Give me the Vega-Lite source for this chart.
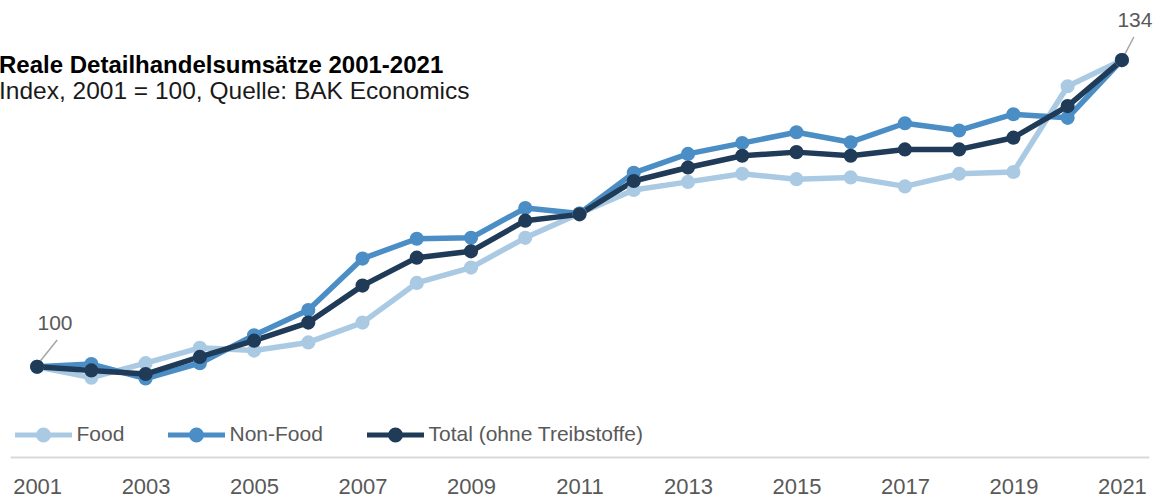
{
  "$schema": "https://vega.github.io/schema/vega-lite/v6.json",
  "width": 1139,
  "height": 451,
  "autosize": {"type": "none"},
  "padding": {"left": 10, "top": 6, "right": 7, "bottom": 39},
  "background": "white",
  "config": {
    "font": "Liberation Sans",
    "view": {"stroke": null},
    "title": {"offset": 0}
  },
  "title": {
    "text": "Reale Detailhandelsumsätze 2001-2021",
    "subtitle": "Index, 2001 = 100, Quelle: BAK Economics",
    "anchor": "start",
    "frame": "group",
    "dx": -11,
    "dy": 101,
    "fontSize": 24,
    "fontWeight": "bold",
    "color": "#000000",
    "subtitleFontSize": 24.5,
    "subtitleColor": "#1a1a1a",
    "subtitlePadding": 2
  },
  "data": {"values": [
      {"year": 2001, "value": 100.0, "series": "Food"},
      {"year": 2002, "value": 98.8, "series": "Food"},
      {"year": 2003, "value": 100.4, "series": "Food"},
      {"year": 2004, "value": 102.1, "series": "Food"},
      {"year": 2005, "value": 101.8, "series": "Food"},
      {"year": 2006, "value": 102.7, "series": "Food"},
      {"year": 2007, "value": 104.9, "series": "Food"},
      {"year": 2008, "value": 109.3, "series": "Food"},
      {"year": 2009, "value": 111.0, "series": "Food"},
      {"year": 2010, "value": 114.3, "series": "Food"},
      {"year": 2011, "value": 117.0, "series": "Food"},
      {"year": 2012, "value": 119.6, "series": "Food"},
      {"year": 2013, "value": 120.5, "series": "Food"},
      {"year": 2014, "value": 121.4, "series": "Food"},
      {"year": 2015, "value": 120.8, "series": "Food"},
      {"year": 2016, "value": 121.0, "series": "Food"},
      {"year": 2017, "value": 120.0, "series": "Food"},
      {"year": 2018, "value": 121.4, "series": "Food"},
      {"year": 2019, "value": 121.6, "series": "Food"},
      {"year": 2020, "value": 131.1, "series": "Food"},
      {"year": 2021, "value": 134.0, "series": "Food"},
      {"year": 2001, "value": 100.0, "series": "Non-Food"},
      {"year": 2002, "value": 100.3, "series": "Non-Food"},
      {"year": 2003, "value": 98.7, "series": "Non-Food"},
      {"year": 2004, "value": 100.4, "series": "Non-Food"},
      {"year": 2005, "value": 103.5, "series": "Non-Food"},
      {"year": 2006, "value": 106.3, "series": "Non-Food"},
      {"year": 2007, "value": 112.0, "series": "Non-Food"},
      {"year": 2008, "value": 114.2, "series": "Non-Food"},
      {"year": 2009, "value": 114.3, "series": "Non-Food"},
      {"year": 2010, "value": 117.6, "series": "Non-Food"},
      {"year": 2011, "value": 117.0, "series": "Non-Food"},
      {"year": 2012, "value": 121.5, "series": "Non-Food"},
      {"year": 2013, "value": 123.6, "series": "Non-Food"},
      {"year": 2014, "value": 124.8, "series": "Non-Food"},
      {"year": 2015, "value": 126.0, "series": "Non-Food"},
      {"year": 2016, "value": 124.9, "series": "Non-Food"},
      {"year": 2017, "value": 127.0, "series": "Non-Food"},
      {"year": 2018, "value": 126.2, "series": "Non-Food"},
      {"year": 2019, "value": 128.0, "series": "Non-Food"},
      {"year": 2020, "value": 127.6, "series": "Non-Food"},
      {"year": 2021, "value": 134.0, "series": "Non-Food"},
      {"year": 2001, "value": 100.0, "series": "Total (ohne Treibstoffe)"},
      {"year": 2002, "value": 99.6, "series": "Total (ohne Treibstoffe)"},
      {"year": 2003, "value": 99.2, "series": "Total (ohne Treibstoffe)"},
      {"year": 2004, "value": 101.1, "series": "Total (ohne Treibstoffe)"},
      {"year": 2005, "value": 102.9, "series": "Total (ohne Treibstoffe)"},
      {"year": 2006, "value": 104.9, "series": "Total (ohne Treibstoffe)"},
      {"year": 2007, "value": 109.0, "series": "Total (ohne Treibstoffe)"},
      {"year": 2008, "value": 112.1, "series": "Total (ohne Treibstoffe)"},
      {"year": 2009, "value": 112.8, "series": "Total (ohne Treibstoffe)"},
      {"year": 2010, "value": 116.2, "series": "Total (ohne Treibstoffe)"},
      {"year": 2011, "value": 116.9, "series": "Total (ohne Treibstoffe)"},
      {"year": 2012, "value": 120.6, "series": "Total (ohne Treibstoffe)"},
      {"year": 2013, "value": 122.1, "series": "Total (ohne Treibstoffe)"},
      {"year": 2014, "value": 123.4, "series": "Total (ohne Treibstoffe)"},
      {"year": 2015, "value": 123.8, "series": "Total (ohne Treibstoffe)"},
      {"year": 2016, "value": 123.4, "series": "Total (ohne Treibstoffe)"},
      {"year": 2017, "value": 124.1, "series": "Total (ohne Treibstoffe)"},
      {"year": 2018, "value": 124.1, "series": "Total (ohne Treibstoffe)"},
      {"year": 2019, "value": 125.4, "series": "Total (ohne Treibstoffe)"},
      {"year": 2020, "value": 128.9, "series": "Total (ohne Treibstoffe)"},
      {"year": 2021, "value": 134.0, "series": "Total (ohne Treibstoffe)"}
  ]},
  "encoding": {
    "x": {"field": "year", "type": "quantitative", "scale": {"domain": [2000.5, 2021.5], "nice": false, "zero": false},
      "axis": {"values": [2001, 2003, 2005, 2007, 2009, 2011, 2013, 2015, 2017, 2019, 2021], "format": "d", "title": null, "grid": false, "ticks": false, "labelFlush": false, "labelOverlap": false, "domainColor": "#d9d9d9", "domainWidth": 2, "labelFontSize": 22, "labelColor": "#595959", "labelPadding": 19}},
    "y": {"field": "value", "type": "quantitative", "scale": {"domain": [90, 140], "nice": false, "zero": false}, "axis": null}
  },
  "layer": [
    {
      "data": {"values": [
        {"label": "100", "year": 2001.0, "value": 100.2, "tipYear": 2001.37, "tipValue": 102.97},
        {"label": "134", "year": 2021.02, "value": 134.24, "tipYear": 2021.22, "tipValue": 136.56}
      ]},
      "mark": {"type": "rule", "color": "#a6a6a6", "strokeWidth": 1.5},
      "encoding": {
        "x2": {"field": "tipYear"},
        "y2": {"field": "tipValue"}
      }
    },
    {
      "mark": {"type": "line", "strokeWidth": 5.5, "strokeJoin": "round"},
      "encoding": {
        "color": {
          "field": "series",
          "type": "nominal",
          "scale": {"domain": ["Food", "Non-Food", "Total (ohne Treibstoffe)"], "range": ["#aacae4", "#4a8ec5", "#1f3b57"]},
          "legend": {
            "title": null,
            "orient": "none",
            "direction": "horizontal",
            "legendX": 2.5,
            "legendY": 398,
            "padding": 0,
            "symbolType": "M-1,0 H1 M-0.175,0 A0.175,0.175 0 1,1 0.175,0 A0.175,0.175 0 1,1 -0.175,0 Z M-0.06,0 A0.06,0.06 0 1,1 0.06,0 A0.06,0.06 0 1,1 -0.06,0 Z",
            "symbolSize": 3249,
            "symbolStrokeWidth": 5,
            "symbolOpacity": 1,
            "labelFontSize": 21,
            "labelColor": "#595959",
            "labelOffset": 2,
            "labelLimit": 320,
            "columnPadding": 33
          }
        }
      }
    },
    {
      "mark": {"type": "point", "filled": true, "size": 200, "opacity": 1},
      "encoding": {
        "color": {
          "field": "series",
          "type": "nominal",
          "legend": {
            "title": null,
            "orient": "none",
            "direction": "horizontal",
            "legendX": 2.5,
            "legendY": 398,
            "padding": 0,
            "symbolType": "M-1,0 H1 M-0.175,0 A0.175,0.175 0 1,1 0.175,0 A0.175,0.175 0 1,1 -0.175,0 Z M-0.06,0 A0.06,0.06 0 1,1 0.06,0 A0.06,0.06 0 1,1 -0.06,0 Z",
            "symbolSize": 3249,
            "symbolStrokeWidth": 5,
            "symbolOpacity": 1,
            "labelFontSize": 21,
            "labelColor": "#595959",
            "labelOffset": 2,
            "labelLimit": 320,
            "columnPadding": 33
          }
        }
      }
    },
    {
      "data": {"values": [
        {"label": "100", "year": 2001.33, "value": 104.08},
        {"label": "134", "year": 2021.24, "value": 137.67}
      ]},
      "mark": {"type": "text", "fontSize": 21, "color": "#595959", "align": "center", "baseline": "alphabetic"},
      "encoding": {
        "text": {"field": "label"}
      }
    }
  ]
}
